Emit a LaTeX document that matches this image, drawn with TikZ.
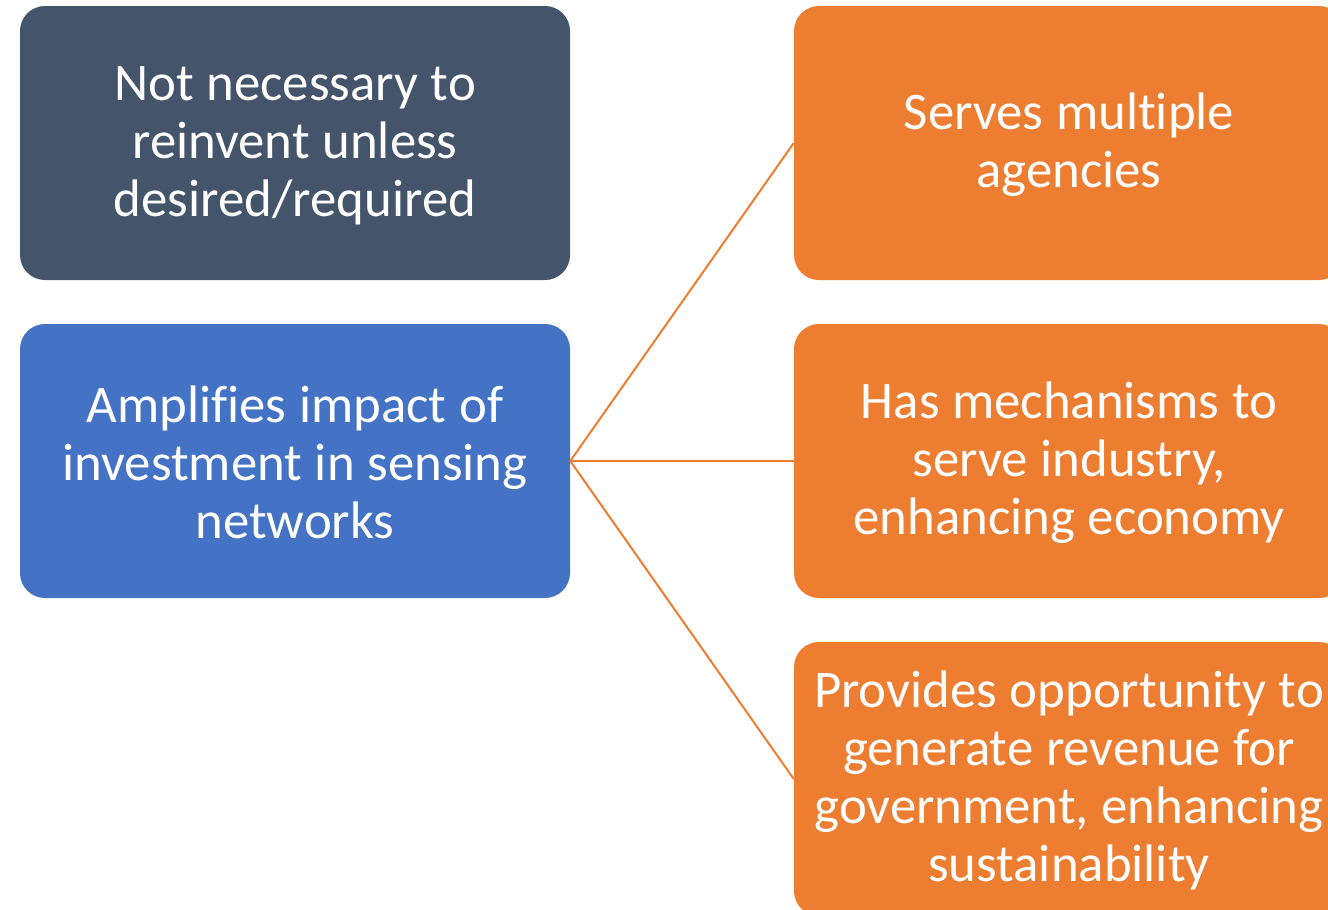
\documentclass[tikz,border=0pt]{standalone}
\usepackage{fontspec}
\setmainfont[Ligatures=NoCommon]{Carlito}
\definecolor{darkbox}{HTML}{44546A}
\definecolor{bluebox}{HTML}{4472C4}
\definecolor{orangebox}{HTML}{ED7D31}
\begin{document}
\begin{tikzpicture}[x=0.75pt,y=-0.75pt,
  box/.style={rounded corners=18.75pt, minimum width=412.5pt, minimum height=205.5pt,
    inner sep=0pt, text width=405pt, align=center, text=white,
    font=\fontsize{39.6}{43.5}\selectfont,
    execute at begin node={\spaceskip=0.24em\relax\rule{0pt}{0.76em}}},
  link/.style={draw=orangebox, line width=1.5pt}]
\useasboundingbox (0,0) rectangle (1328,910);
\clip (0,0) rectangle (1328,910);
\node[box, fill=darkbox] (d) at (295,143) {Not necessary to\\reinvent unless\\desired/required};
\node[box, fill=bluebox] (b) at (295,461) {Amplifies impact of\\investment in sensing\\networks};
\node[box, fill=orangebox] (o1) at (1069,143) {Serves multiple\\agencies};
\node[box, fill=orangebox] (o2) at (1069,461) {Has mechanisms to\\serve industry,\\enhancing economy};
\node[box, fill=orangebox] (o3) at (1069,779) {Provides opportunity to\\generate revenue for\\government, enhancing\\sustainability};
\draw[link] (b.east) -- (o1.west);
\draw[link] (b.east) -- (o2.west);
\draw[link] (b.east) -- (o3.west);
\end{tikzpicture}
\end{document}
